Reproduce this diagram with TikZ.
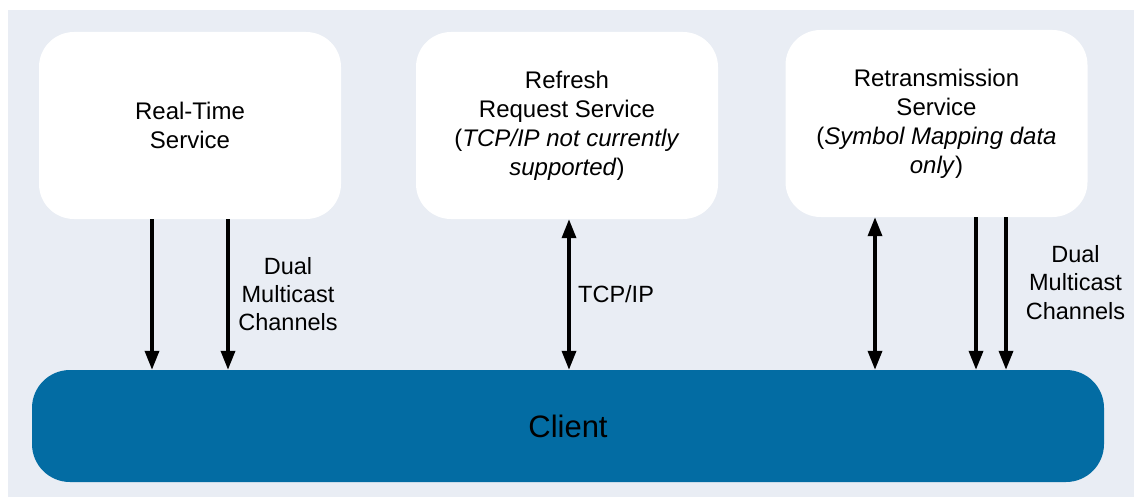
\documentclass[tikz,border=0pt]{standalone}
\usepackage{fontspec}
\setmainfont{Liberation Sans}
\usetikzlibrary{arrows.meta}
\definecolor{bgc}{RGB}{233,237,244}
\definecolor{clientc}{RGB}{3,108,163}
\tikzset{
  svcbox/.style={fill=white, draw=none, rounded corners=35pt, minimum width=302pt, minimum height=187pt, align=center, inner sep=0pt, font=\fontsize{24}{29}\selectfont},
  clientbox/.style={fill=clientc, draw=none, rounded corners=38pt, minimum width=1072pt, minimum height=112pt, inner sep=0pt, font=\fontsize{31}{36}\selectfont},
  lbl/.style={align=center, inner sep=0pt, font=\fontsize{23.5}{28.3}\selectfont},
  arr/.style={line width=3.5pt, -{Triangle[length=19pt,width=14pt]}},
  darr/.style={line width=3.5pt, {Triangle[length=19pt,width=14pt]}-{Triangle[length=19pt,width=14pt]}},
}
\begin{document}
\begin{tikzpicture}[x=1pt,y=-1pt]
\useasboundingbox (0,0) rectangle (1134,497);
\fill[bgc] (8,10) rectangle (1134,497);
\node[svcbox] (rt) at (190,125.5) {Real-Time\\Service};
\node[svcbox] (rr) at (567,125.5) {Refresh\\Request Service\\(\textit{TCP/IP not currently}\\\textit{supported})};
\node[svcbox] (rx) at (936.5,123.5) {Retransmission\\Service\\(\textit{Symbol Mapping data}\\\textit{only})};
\node[clientbox] (cl) at (568,426) {Client};
\draw[arr] (rt.south -| 152,0) -- (cl.north -| 152,0);
\draw[arr] (rt.south -| 228,0) -- (cl.north -| 228,0);
\draw[darr] (rr.south -| 569,0) -- (cl.north -| 569,0);
\draw[darr] (rx.south -| 875,0) -- (cl.north -| 875,0);
\draw[arr] (rx.south -| 976,0) -- (cl.north -| 976,0);
\draw[arr] (rx.south -| 1006,0) -- (cl.north -| 1006,0);
\node[lbl] (l1) at (288,294) {Dual\\Multicast\\Channels};
\node[lbl, anchor=west] (l2) at (578,294) {TCP/IP};
\node[lbl] (l3) at (1075.5,282.5) {Dual\\Multicast\\Channels};
\end{tikzpicture}
\end{document}
